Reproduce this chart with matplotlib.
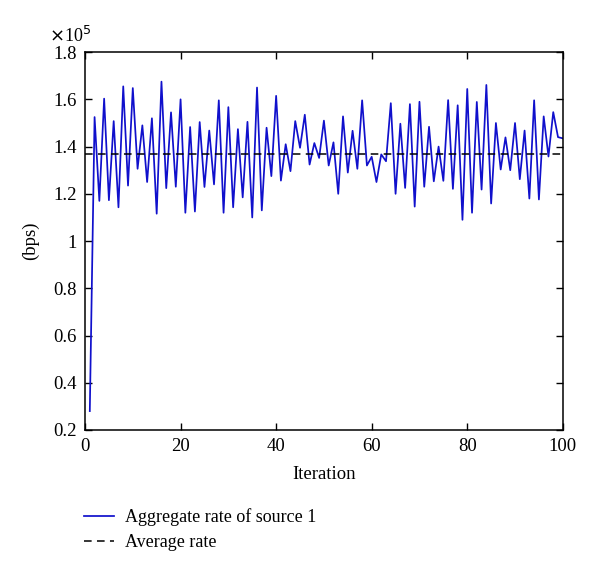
import numpy as np
import matplotlib
matplotlib.use('Agg')
import matplotlib.pyplot as plt
from matplotlib.ticker import FuncFormatter

plt.rcParams['font.family'] = ['Liberation Serif', 'DejaVu Serif']

# aggregate rate of source 1, in units of 1e5 bps
iterations = np.arange(1, 101)
rate = [
    0.28, 1.525, 1.17, 1.603, 1.173, 1.508, 1.143, 1.655, 1.235, 1.648,
    1.306, 1.49, 1.25, 1.52, 1.116, 1.675, 1.224, 1.545, 1.23, 1.60,
    1.12, 1.483, 1.125, 1.504, 1.229, 1.468, 1.24, 1.596, 1.12, 1.567,
    1.143, 1.474, 1.185, 1.505, 1.10, 1.65, 1.13, 1.48, 1.275, 1.615,
    1.256, 1.41, 1.296, 1.508, 1.395, 1.535, 1.324, 1.415, 1.352, 1.51,
    1.32, 1.418, 1.20, 1.528, 1.29, 1.467, 1.306, 1.596, 1.32, 1.357,
    1.25, 1.367, 1.338, 1.584, 1.20, 1.497, 1.225, 1.58, 1.146, 1.59,
    1.23, 1.484, 1.253, 1.40, 1.255, 1.597, 1.221, 1.575, 1.09, 1.644,
    1.12, 1.589, 1.218, 1.661, 1.159, 1.50, 1.303, 1.439, 1.30, 1.50,
    1.262, 1.468, 1.18, 1.596, 1.176, 1.528, 1.358, 1.546, 1.44, 1.435,
]
avg_rate = 1.37

x_ticks = [0, 20, 40, 60, 80, 100]
y_ticks = [0.2, 0.4, 0.6, 0.8, 1.0, 1.2, 1.4, 1.6, 1.8]

fig = plt.figure(figsize=(6, 5.73), dpi=100)
ax = fig.add_axes([0.1417, 0.2496, 0.7963, 0.6594])

l1, = ax.plot(iterations, rate, color='#1010cc', lw=1.25, label='Aggregate rate of source 1')
l2, = ax.plot([0, 100], [avg_rate, avg_rate], color='black', lw=1.1,
              ls=(0, (5, 3.5)), label='Average rate')

ax.set_xlim(0, 100)
ax.set_ylim(0.2, 1.8)
ax.set_xticks(x_ticks)
ax.set_yticks(y_ticks)
ax.yaxis.set_major_formatter(FuncFormatter(lambda v, p: f'{v:g}'))
ax.tick_params(direction='in', length=5, width=1, top=True, right=True,
               labelsize=13.5, pad=6)
for s in ax.spines.values():
    s.set_linewidth(1.1)

ax.set_xlabel('Iteration', fontsize=13.5, labelpad=8)
ax.set_ylabel('(bps)', fontsize=13.5, labelpad=10)
ax.text(-0.075, 1.015, r'$\times$10$^5$', transform=ax.transAxes,
        fontsize=13, ha='left', va='bottom')

fig.legend(handles=[l1, l2], loc='upper left', bbox_to_anchor=(0.128, 0.126),
           frameon=False, fontsize=13, handlelength=1.65, handletextpad=0.6,
           labelspacing=0.45, borderaxespad=0)

fig.savefig('out.png', dpi=100)
